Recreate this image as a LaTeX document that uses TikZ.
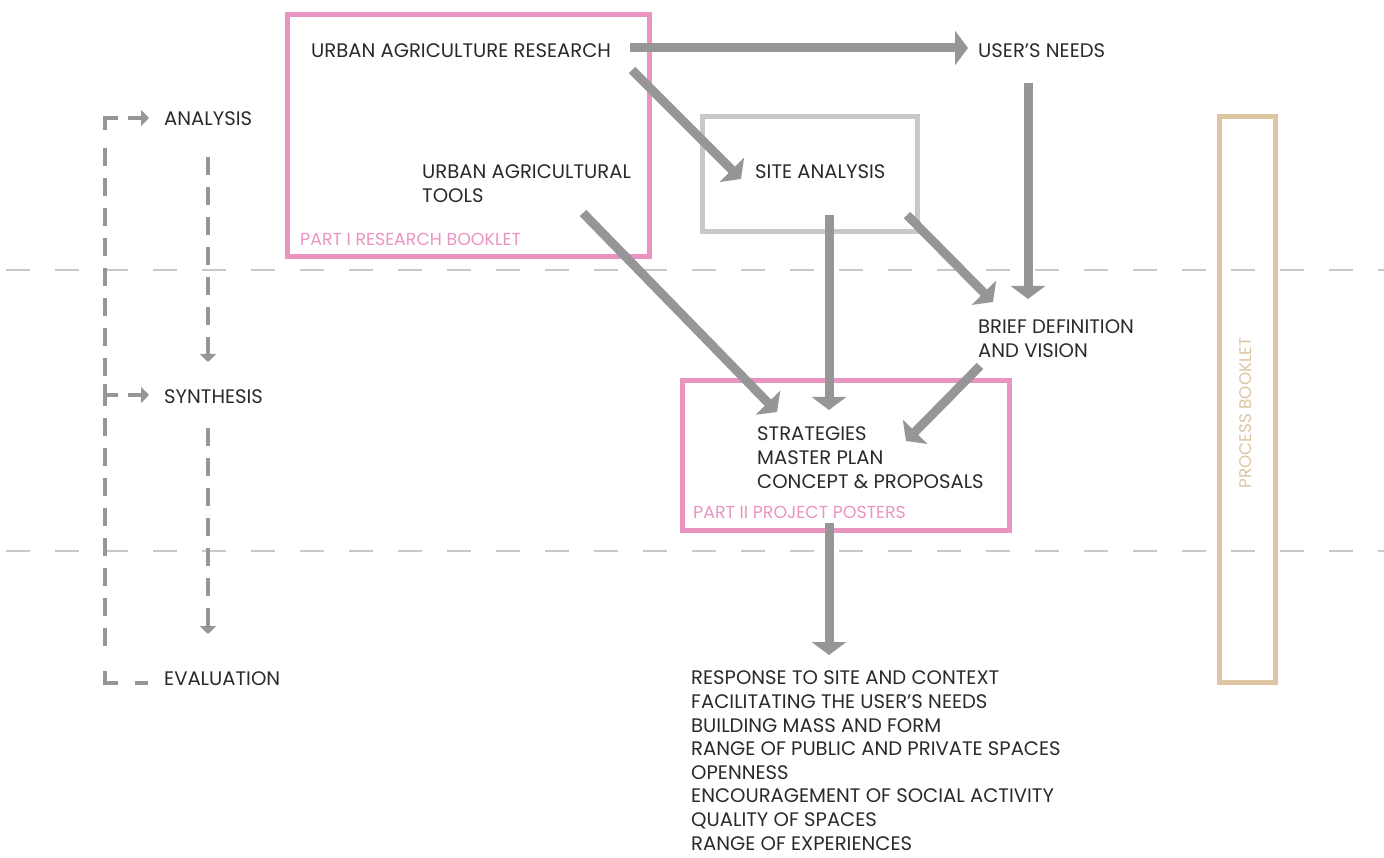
\documentclass[tikz,border=0pt]{standalone}
\usepackage{fontspec}
\setmainfont{Poppins}
\usetikzlibrary{arrows.meta}
\definecolor{txt}{HTML}{2A2A2A}
\definecolor{pinkc}{HTML}{EA94C1}
\definecolor{arrowgray}{HTML}{969696}
\definecolor{lightgray}{HTML}{C8C8C8}
\definecolor{tan}{HTML}{DCC5A0}
\begin{document}
\begin{tikzpicture}[x=1pt,y=-1pt,
  lbl/.style={anchor=base west, inner sep=0pt, text=txt, font=\fontsize{19.6}{24}\selectfont, align=left},
  pinklbl/.style={anchor=base west, inner sep=0pt, text=pinkc, font=\fontsize{17.4}{20}\selectfont},
  pinkbox/.style={draw=pinkc, line width=5pt},
  graybox/.style={draw=lightgray, line width=5pt},
  tanbox/.style={draw=tan, line width=5pt},
  bigarrow/.style={draw=arrowgray, line width=9pt, -{Triangle[width=34pt,length=13pt]}},
  sep/.style={draw=lightgray, line width=2.5pt, dash pattern=on 24pt off 25pt},
  flow/.style={draw=arrowgray, line width=4.5pt, dash pattern=on 18pt off 12pt},
  smallarrow/.style={draw=arrowgray, line width=4.5pt, -{Triangle[width=16pt,length=8pt]}},
  dflow/.style={draw=arrowgray, line width=4.5pt, dash pattern=on 18pt off 12pt, -{Triangle[width=16pt,length=8pt]}}
]
\useasboundingbox (0,0) rectangle (1384,858);

% separators
\coordinate (s1a) at (6,270); \coordinate (s1b) at (1384,270);
\coordinate (s2a) at (6,551); \coordinate (s2b) at (1384,551);
\draw[sep] (s1a) -- (s1b);
\draw[sep] (s2a) -- (s2b);

% boxes
\node[pinkbox, minimum width=362pt, minimum height=242pt, inner sep=0pt] (box1) at (468,136) {};
\node[graybox, minimum width=215pt, minimum height=115pt, inner sep=0pt] (box2) at (809.5,174.5) {};
\node[pinkbox, minimum width=327pt, minimum height=149pt, inner sep=0pt] (box3) at (845.5,455.5) {};
\node[tanbox, minimum width=56pt, minimum height=565pt, inner sep=0pt] (box4) at (1247,399.5) {};
\node[rotate=90, text=tan, font=\fontsize{16.8}{20}\selectfont, inner sep=0pt] (pb) at (1246,413) {PROCESS BOOKLET};

\node[pinklbl] (p1) at (300,246) {PART I RESEARCH BOOKLET};
\node[pinklbl] (p2) at (693,518) {PART II PROJECT POSTERS};

% left flow labels
\node[lbl] (ana) at (164,126) {ANALYSIS};
\node[lbl] (syn) at (164,403) {SYNTHESIS};
\node[lbl] (eva) at (164,685) {EVALUATION};

% main labels (base anchor = baseline of last line)
\node[lbl] (uar) at (311,58) {URBAN AGRICULTURE RESEARCH};
\node[lbl] (uat) at (422,203) {URBAN AGRICULTURAL\\TOOLS};
\node[lbl] (site) at (755,179) {SITE ANALYSIS};
\node[lbl] (user) at (978,58) {USER'S NEEDS};
\node[lbl] (brief) at (978,358) {BRIEF DEFINITION\\AND VISION};
\node[lbl] (strat) at (757,488) {STRATEGIES\\MASTER PLAN\\CONCEPT \& PROPOSALS};
\node[lbl, font=\fontsize{19.6}{23.6}\selectfont] (eval) at (691,850) {RESPONSE TO SITE AND CONTEXT\\FACILITATING THE USER'S NEEDS\\BUILDING MASS AND FORM\\RANGE OF PUBLIC AND PRIVATE SPACES\\OPENNESS\\ENCOURAGEMENT OF SOCIAL ACTIVITY\\QUALITY OF SPACES\\RANGE OF EXPERIENCES};

% big arrows
\coordinate (a1s) at (630,48);  \coordinate (a1e) at (968,48);
\coordinate (a2s) at (632,70);  \coordinate (a2e) at (741,179);
\coordinate (a3s) at (1028,83); \coordinate (a3e) at (1028,299);
\coordinate (a4s) at (829,215); \coordinate (a4e) at (829,410);
\coordinate (a5s) at (907,215); \coordinate (a5e) at (993,302);
\coordinate (a6s) at (583,213); \coordinate (a6e) at (777,412);
\coordinate (a7s) at (980,366); \coordinate (a7e) at (906,441);
\coordinate (a8s) at (829,523); \coordinate (a8e) at (829,655);
\draw[bigarrow] (a1s) -- (a1e);
\draw[bigarrow] (a2s) -- (a2e);
\draw[bigarrow] (a3s) -- (a3e);
\draw[bigarrow] (a4s) -- (a4e);
\draw[bigarrow] (a5s) -- (a5e);
\draw[bigarrow] (a6s) -- (a6e);
\draw[bigarrow] (a7s) -- (a7e);
\draw[bigarrow] (a8s) -- (a8e);

% left dashed flow
\coordinate (lt) at (118,118); \coordinate (lc1) at (105,118);
\coordinate (lc2) at (105,683); \coordinate (lb) at (118,683);
\draw[draw=arrowgray, line width=4.5pt] (lt) -- (lc1) -- ++(0,12);
\draw[draw=arrowgray, line width=4.5pt] (105,671) -- (lc2) -- (lb);
\draw[flow] (105,148) -- (105,655);
\coordinate (ls) at (105,395); \coordinate (lsb) at (118,395);
\draw[draw=arrowgray, line width=4.5pt] (ls) -- (lsb);
\draw[draw=arrowgray, line width=4.5pt] (105,384) -- (105,406);
\coordinate (ed1) at (135,683); \coordinate (ed2) at (148,683);
\draw[draw=arrowgray, line width=4.5pt] (ed1) -- (ed2);
\coordinate (aa1) at (128,118); \coordinate (aa2) at (149,118);
\draw[smallarrow] (aa1) -- (aa2);
\coordinate (sa1) at (128,395); \coordinate (sa2) at (149,395);
\draw[smallarrow] (sa1) -- (sa2);

\coordinate (m1s) at (208,157); \coordinate (m1e) at (208,362);
\coordinate (m2s) at (208,428); \coordinate (m2e) at (208,634);
\draw[dflow] (m1s) -- (m1e);
\draw[dflow] (m2s) -- (m2e);
\end{tikzpicture}
\end{document}
